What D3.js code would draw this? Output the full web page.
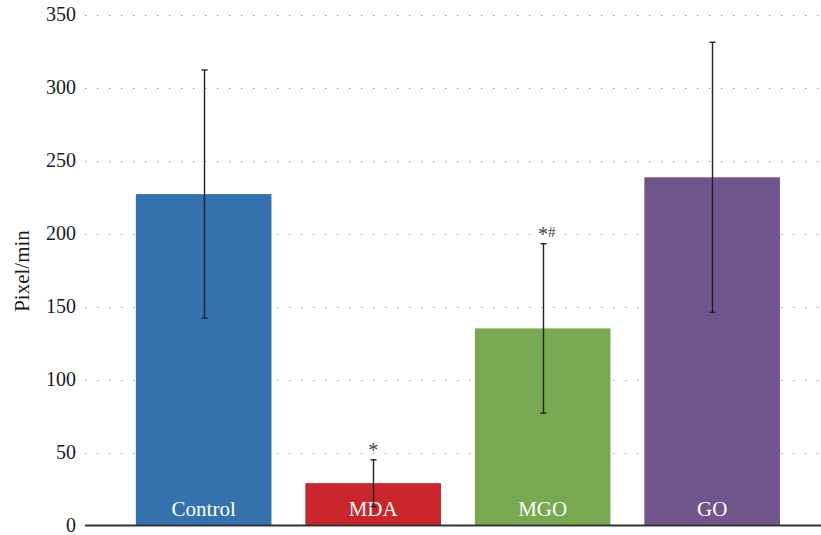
<!DOCTYPE html>
<html>
<head>
<meta charset="utf-8">
<script src="https://cdn.jsdelivr.net/npm/d3@7"></script>
<style>
  html, body { margin: 0; padding: 0; background: #fff; }
  svg { display: block; }
  text { font-family: "Liberation Serif", "DejaVu Serif", serif; }
</style>
</head>
<body>
<svg id="chart" width="821" height="535"></svg>
<script>
// Groups, mean velocity (pixel/min) and standard deviation
const groups = ["Control", "MDA", "MGO", "GO"];
const means = [227, 29, 135, 238.5];
const sds = [85, 16, 58, 92.5];
const stars = ["", "*", "*", ""];
const hashes = ["", "", "#", ""];
const colors = ["#3372ae", "#c9252b", "#78a84f", "#70548c"];
const yTicks = [0, 50, 100, 150, 200, 250, 300, 350];

const svg = d3.select("#chart");

const x = d3.scaleBand()
  .domain(groups)
  .range([85, 830.8])
  .paddingInner(0.2)
  .paddingOuter(0.3);

const y = d3.scaleLinear()
  .domain([0, 350])
  .range([525.5, 14.5]);

// Dotted horizontal gridlines
svg.append("g")
  .selectAll("line")
  .data(yTicks.filter(d => d > 0))
  .join("line")
  .attr("x1", 85)
  .attr("x2", 821)
  .attr("y1", d => Math.round(y(d)) + 0.5)
  .attr("y2", d => Math.round(y(d)) + 0.5)
  .attr("stroke", "#888")
  .attr("stroke-width", 1.2)
  .attr("stroke-dasharray", "1.2,10.8");

// Y axis tick labels
const yAxis = d3.axisLeft(y).tickValues(yTicks).tickSize(0).tickPadding(9);
svg.append("g")
  .attr("transform", "translate(85,0)")
  .call(yAxis)
  .call(g => g.select(".domain").remove())
  .call(g => g.selectAll("text")
    .attr("font-family", "'Liberation Serif', serif")
    .attr("font-size", 20)
    .attr("fill", "#1a1a1a"));

// Y axis title
svg.append("text")
  .attr("transform", "translate(29,271) rotate(-90)")
  .attr("text-anchor", "middle")
  .attr("font-size", 21)
  .attr("fill", "#1a1a1a")
  .text("Pixel/min");

// Bars
svg.append("g")
  .selectAll("rect")
  .data(groups)
  .join("rect")
  .attr("x", d => x(d))
  .attr("width", x.bandwidth())
  .attr("y", (d, i) => y(means[i]))
  .attr("height", (d, i) => y(0) - y(means[i]))
  .attr("fill", (d, i) => colors[i]);

// Category labels inside bars
svg.append("g")
  .selectAll("text")
  .data(groups)
  .join("text")
  .attr("x", d => x(d) + x.bandwidth() / 2)
  .attr("y", 515.5)
  .attr("text-anchor", "middle")
  .attr("font-size", 21)
  .attr("fill", "#fff")
  .text(d => d);

// Error bars
const eb = svg.append("g").attr("stroke", "#222").attr("stroke-width", 1.4);
groups.forEach((g, i) => {
  const cx = Math.round(x(g) + x.bandwidth() / 2) + 0.5;
  const top = y(means[i] + sds[i]);
  const bot = y(means[i] - sds[i]);
  eb.append("line").attr("x1", cx).attr("x2", cx).attr("y1", top).attr("y2", bot);
  eb.append("line").attr("x1", cx - 3).attr("x2", cx + 3).attr("y1", top).attr("y2", top);
  eb.append("line").attr("x1", cx - 3).attr("x2", cx + 3).attr("y1", bot).attr("y2", bot);
});

// Significance marks above error bars (* vs Control, # raised)
const sig = svg.append("g")
  .selectAll("text")
  .data(groups)
  .join("text")
  .attr("x", (d, i) => x(d) + x.bandwidth() / 2 + (hashes[i] ? 4 : 0))
  .attr("y", (d, i) => y(means[i] + sds[i]) - 3)
  .attr("text-anchor", "middle")
  .attr("font-size", 20)
  .attr("fill", "#444");
sig.append("tspan").text((d, i) => stars[i]);
sig.append("tspan")
  .attr("font-size", 15)
  .attr("dy", -4)
  .text((d, i) => hashes[i]);

// Baseline
svg.append("line")
  .attr("x1", 85)
  .attr("x2", 821)
  .attr("y1", y(0))
  .attr("y2", y(0))
  .attr("stroke", "#333")
  .attr("stroke-width", 2);
</script>
</body>
</html>
